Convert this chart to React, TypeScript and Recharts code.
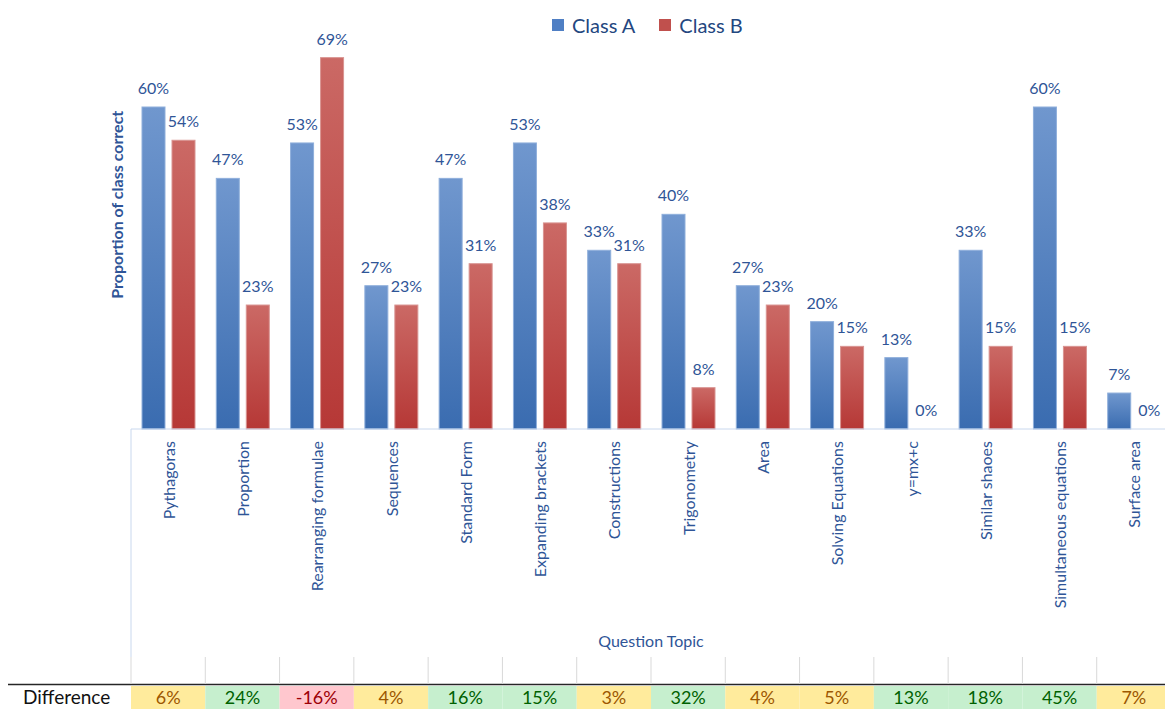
import { Bar, BarChart, LabelList, Legend, XAxis, YAxis } from "recharts";

const topics = [
    'Pythagoras', 'Proportion', 'Rearranging formulae', 'Sequences', 'Standard Form',
    'Expanding brackets', 'Constructions', 'Trigonometry', 'Area', 'Solving Equations',
    'y=mx+c', 'Similar shaoes', 'Simultaneous equations', 'Surface area'
];
const classA = [0.6, 0.467, 0.533, 0.267, 0.467, 0.533, 0.333, 0.4, 0.267, 0.2, 0.133, 0.333, 0.6, 0.067];
const classB = [0.538, 0.231, 0.692, 0.231, 0.308, 0.384, 0.308, 0.077, 0.231, 0.154, 0, 0.154, 0.154, 0];
const differences = [6, 24, -16, 4, 16, 15, 3, 32, 4, 5, 13, 18, 45, 7];
const seriesNames = ['Class A', 'Class B'];

const data = topics.map((topic, i) => ({ topic, a: classA[i], b: classB[i], diff: differences[i] }));

const CHART_W = 1175;
const CHART_H = 709;
const Y_AXIS_W = 131;
const MARGIN_RIGHT = 4;
const BAND = (CHART_W - Y_AXIS_W - MARGIN_RIGHT) / topics.length;
const TEXT_BLUE = '#2F5597';

function pct(v: unknown) {
    return Math.round(Number(v) * 100) + '%';
}

// bar with gradient fill; a zero-height bar keeps its label but draws nothing
function makeShape(fill: string, stroke: string) {
    return (props: any) => {
        const { x, y, width, height } = props;
        if (!(height > 0.5)) return <g />;
        return <rect x={x} y={y} width={width} height={height} fill={fill} stroke={stroke} strokeWidth={1} />;
    };
}

function TopicTick(props: any) {
    const { x, y, payload, index } = props;
    const axisY = y - 12;
    return (
        <g>
            {index === 0 && (
                <line x1={x - BAND / 2} x2={x - BAND / 2} y1={axisY} y2={axisY + 228} stroke="#C9D8EE" />
            )}
            <text x={x} y={y} transform={`rotate(-90, ${x}, ${y})`} textAnchor="end" dominantBaseline="central"
                fill={TEXT_BLUE} fontSize={16}>
                {payload.value}
            </text>
        </g>
    );
}

function DiffTick(props: any) {
    const { x, y, index } = props;
    const d = differences[index];
    const fill = d < 0 ? '#FFC7CE' : d >= 10 ? '#C6EFCE' : '#FFEB9C';
    const color = d < 0 ? '#9C0006' : d >= 10 ? '#006100' : '#9C5700';
    const left = x - BAND / 2;
    return (
        <g>
            <line x1={left} x2={left} y1={y} y2={y + 27} stroke="#D9D9D9" />
            <rect x={left} y={y + 29} width={BAND} height={26} fill={fill} />
            <text x={x} y={y + 47} textAnchor="middle" fill={color} fontSize={18}>{d}%</text>
        </g>
    );
}

function renderLegend() {
    const colors = ['#4F7FC4', '#C0504D'];
    return (
        <div style={{ display: 'flex', alignItems: 'center', fontSize: 20, color: '#24477F' }}>
            {seriesNames.map((name, i) => (
                <div key={name} style={{ display: 'flex', alignItems: 'center', marginRight: 24 }}>
                    <span style={{ width: 12, height: 12, background: colors[i], marginRight: 8, display: 'inline-block' }} />
                    <span>{name}</span>
                </div>
            ))}
        </div>
    );
}

export default function App() {
    return (
        <div style={{ position: 'absolute', left: 0, top: 0, width: 1165, height: 709, overflow: 'hidden', background: '#fff', fontFamily: 'Lato, sans-serif' }}>
            <BarChart width={CHART_W} height={CHART_H} data={data} barCategoryGap={11} barGap={7}
                margin={{ top: 26.5, right: MARGIN_RIGHT, left: 0, bottom: 0 }}>
                <defs>
                    <linearGradient id="gradA" x1="0" y1="0" x2="0" y2="1">
                        <stop offset="0%" stopColor="#7097CE" />
                        <stop offset="100%" stopColor="#3A6CB0" />
                    </linearGradient>
                    <linearGradient id="gradB" x1="0" y1="0" x2="0" y2="1">
                        <stop offset="0%" stopColor="#CB6965" />
                        <stop offset="100%" stopColor="#B63836" />
                    </linearGradient>
                </defs>
                <Legend verticalAlign="middle" align="center" layout="horizontal" content={renderLegend}
                    wrapperStyle={{ top: 13, left: 552, width: 'auto' }} />
                <YAxis width={Y_AXIS_W} domain={[0, 0.75]} tick={false} axisLine={false} tickLine={false}
                    label={(p: any) => {
                        const vb = p.viewBox;
                        const cx = vb.x + vb.width - 15;
                        const cy = vb.y + vb.height / 2 - 23;
                        return (
                            <text x={cx} y={cy} transform={`rotate(-90, ${cx}, ${cy})`} textAnchor="middle"
                                dominantBaseline="central" fill={TEXT_BLUE} fontSize={16} fontWeight="bold">
                                Proportion of class correct
                            </text>
                        );
                    }} />
                <XAxis dataKey="topic" height={228} interval={0} tickLine={false} tickSize={0} tickMargin={12}
                    axisLine={{ stroke: '#C9D8EE' }} tick={TopicTick}
                    label={{ value: 'Question Topic', position: 'insideBottom', offset: 10, fill: TEXT_BLUE, fontSize: 16 }} />
                <XAxis xAxisId="diff" dataKey="topic" height={52} interval={0} tickLine={false} tickSize={0}
                    tickMargin={0} axisLine={false} tick={DiffTick}
                    label={(p: any) => {
                        const vb = p.viewBox;
                        return (
                            <g>
                                <line x1={8} x2={vb.x + vb.width} y1={vb.y + 27.5} y2={vb.y + 27.5} stroke="#262626" strokeWidth={1.5} />
                                <text x={23} y={vb.y + 47} fill="#111" fontSize={19}>Difference</text>
                            </g>
                        );
                    }} />
                <Bar dataKey="a" name={seriesNames[0]} minPointSize={0.01} shape={makeShape('url(#gradA)', '#8FAFDB')} isAnimationActive={false}>
                    <LabelList dataKey="a" position="top" offset={13} formatter={pct} fill={TEXT_BLUE} fontSize={16} />
                </Bar>
                <Bar dataKey="b" name={seriesNames[1]} minPointSize={0.01} shape={makeShape('url(#gradB)', '#D99491')} isAnimationActive={false}>
                    <LabelList dataKey="b" position="top" offset={13} formatter={pct} fill={TEXT_BLUE} fontSize={16} />
                </Bar>
            </BarChart>
        </div>
    );
}
